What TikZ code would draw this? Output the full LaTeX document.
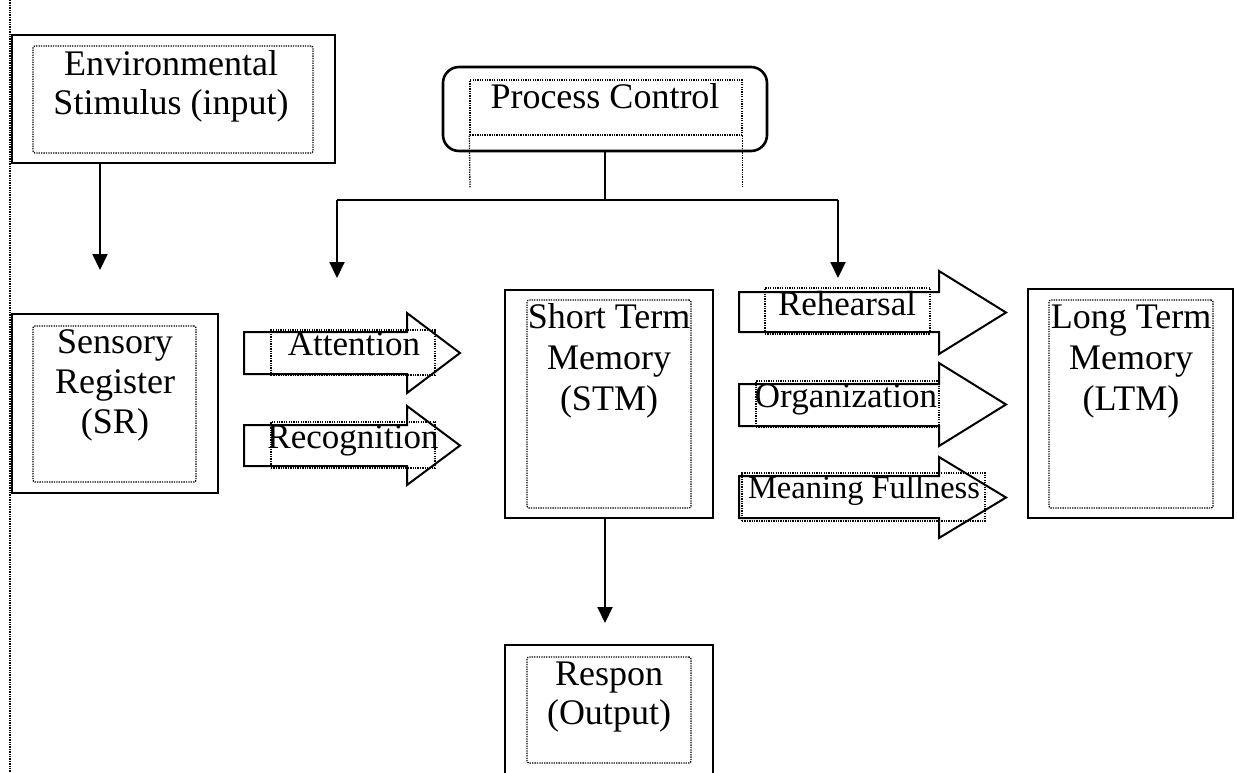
\documentclass[tikz,border=0pt]{standalone}
\usepackage{fontspec}
\setmainfont{Liberation Serif}
\usetikzlibrary{arrows.meta,fit}
\tikzset{
  outerbox/.style={draw, line width=2.6pt, inner sep=0pt},
  dotbox/.style={draw, line width=1.3pt, dash pattern=on 1.3pt off 1.1pt, rounded corners=2pt, inner sep=0pt},
  dotline/.style={line width=1.3pt, dash pattern=on 1.3pt off 1.1pt},
  conn/.style={line width=2pt},
  arr/.style={line width=2pt, -{Triangle[width=15pt,length=16pt]}},
  blk/.style={draw, line width=2pt, line join=miter},
  boxtxt/.style={font=\fontsize{36}{39}\selectfont, align=center, inner sep=0pt, anchor=north},
  lbl/.style={font=\fontsize{35}{39}\selectfont, inner sep=0pt, anchor=base},
}
\newcommand{\blockarrow}[7]{%
  \draw[blk] (#1,#2) -- (#4,#2) -- (#4,#5) -- (#7,{(#5+#6)/2}) -- (#4,#6) -- (#4,#3) -- (#1,#3) -- cycle;}
\begin{document}
\begin{tikzpicture}[x=1pt,y=-1pt]
\path[use as bounding box] (0,0) rectangle (1237,772);
\clip (0,0) rectangle (1237,772);

% left margin dotted line
\coordinate (mtop) at (10,0);
\coordinate (mbot) at (10,772);
\draw[dotline] (mtop) -- (mbot);

% Environmental stimulus
\node[outerbox, fit={(12,35) (335,163)}] (env) {};
\node[dotbox, fit={(33,46) (313,153)}] (envin) {};
\node[boxtxt] (envt) at (171,{75-27.3}) {\strut Environmental\\Stimulus (input)};

% Sensory register
\node[outerbox, fit={(12,314) (218,493)}] (sr) {};
\node[dotbox, fit={(33,326) (196,482)}] (srin) {};
\node[boxtxt, font=\fontsize{36}{40}\selectfont] (srt) at (115,{353-28}) {\strut Sensory\\Register\\(SR)};

% Process control
\node[outerbox, rounded corners=16pt, fit={(443,67) (767,151)}] (pc) {};
\node[draw, dotline, inner sep=0pt, fit={(470,80) (742,135)}] (pcin) {};
\node[lbl, font=\fontsize{36}{39}\selectfont] (pct) at (605,108) {Process Control};
\coordinate (pcdl) at (470,188);
\draw[dotline] (pcin.south west) -- (pcdl);
\draw[dotline] (pcin.south east) -- (pcdl -| pcin.south east);

% STM
\node[outerbox, fit={(505,290) (713,518)}] (stm) {};
\node[dotbox, fit={(527,300) (691,508)}] (stmin) {};
\node[boxtxt, font=\fontsize{36}{41}\selectfont] (stmt) at (609,{328-28.7}) {\strut Short Term\\Memory\\(STM)};

% LTM
\node[outerbox, fit={(1028,289) (1233,518)}] (ltm) {};
\node[dotbox, fit={(1049,300) (1213,508)}] (ltmin) {};
\node[boxtxt, font=\fontsize{36}{41}\selectfont] (ltmt) at (1131,{328-28.7}) {\strut Long Term\\Memory\\(LTM)};

% Response
\node[outerbox, fit={(505,645) (713,800)}] (resp) {};
\node[dotbox, fit={(527,657) (691,763)}] (respin) {};
\node[boxtxt] (respt) at (609,{685-27.3}) {\strut Respon\\(Output)};

% connectors
\coordinate (envtip) at (100,270);
\draw[arr] (envtip |- env.south) -- (envtip);
\coordinate (barL) at (337,200);
\coordinate (barR) at (838,200);
\coordinate (tipL) at (337,278);
\coordinate (tipR) at (838,278);
\draw[conn] (pc.south) -- (pc.south |- barL);
\draw[conn] (barL) -- (barR);
\draw[arr] (barL) -- (tipL);
\draw[arr] (barR) -- (tipR);
\coordinate (resptip) at (605,623);
\draw[arr] (resptip |- stm.south) -- (resptip);

% block arrows: x0, shaft top, shaft bottom, head x, head top, head bottom, tip x
\blockarrow{244}{332}{374}{407}{313}{393}{460}
\node[dotbox, rounded corners=0pt, fit={(271,330) (435,375)}] (attbox) {};
\node[lbl] (att) at (354,355) {Attention};

\blockarrow{244}{425}{466}{407}{406}{485}{460}
\node[dotbox, rounded corners=0pt, fit={(271,422) (435,468)}] (recbox) {};
\node[lbl] (rec) at (353,448) {Recognition};

\blockarrow{739}{292}{332}{939}{271}{354}{1006}
\node[dotbox, rounded corners=0pt, fit={(765,288) (930,334)}] (rehbox) {};
\node[lbl] (reh) at (847,315) {Rehearsal};

\blockarrow{739}{384}{426}{939}{363}{446}{1006}
\node[dotbox, rounded corners=0pt, fit={(756,381) (939,427)}] (orgbox) {};
\node[lbl] (org) at (846,407) {Organization};

\blockarrow{739}{476}{518}{939}{457}{538}{1006}
\node[dotbox, rounded corners=0pt, fit={(742,473) (985,521)}] (mfbox) {};
\node[lbl, font=\fontsize{32.5}{38}\selectfont] (mf) at (864,498) {Meaning Fullness};
\end{tikzpicture}
\end{document}
